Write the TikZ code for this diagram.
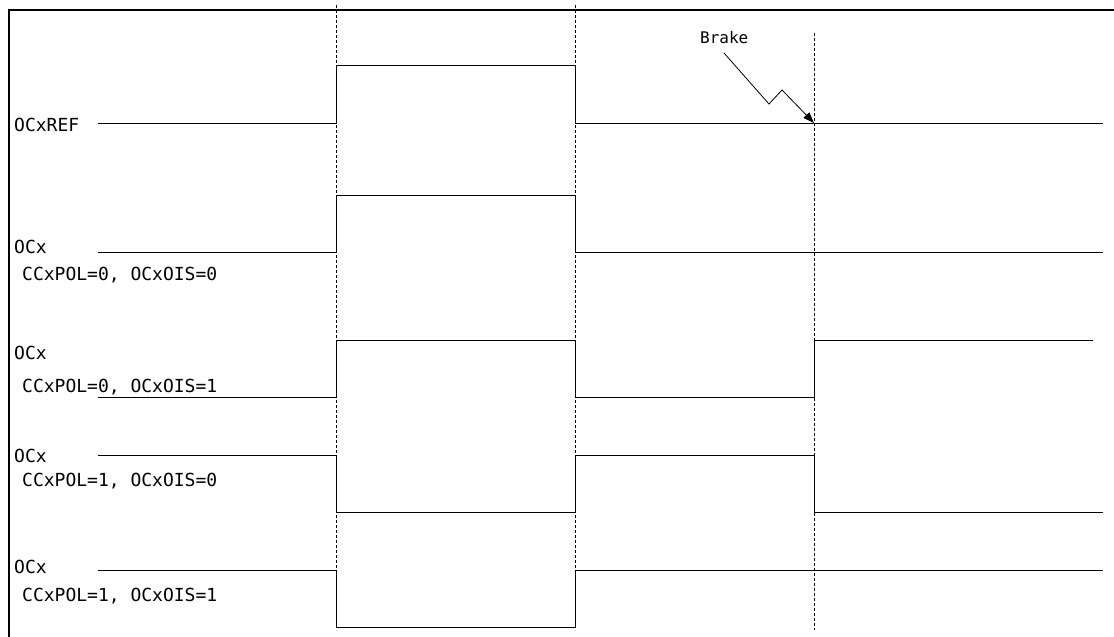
\documentclass[tikz,border=0pt]{standalone}
\usepackage{fontspec}
\newfontfamily\monofont{DejaVu Sans Mono}
\usetikzlibrary{arrows.meta}

\tikzset{
  sig/.style={line width=1pt},
  edge/.style={line width=0.8pt, dash pattern=on 3pt off 2pt},
  lbl/.style={anchor=base west, inner sep=0pt, font=\monofont\fontsize{18}{18}\selectfont},
}

\begin{document}
\begin{tikzpicture}[x=1pt,y=-1pt]

\useasboundingbox (0,0) rectangle (1114,637);

%%% 枠
\draw[line width=2pt] (9,637) --(9,10) --(1114,10);

%% 破線
\draw[edge] (336,5) --(336,630);
\draw[edge] (575,5) --(575,630);
\draw[edge] (814,33) --(814,630);

%% 名前
\node[lbl] (ref) at (14,131) {OCxREF};
\node[lbl] (oca) at (14,253) {OCx};
\node[lbl] (pola) at (22,280) {CCxPOL=0, OCxOIS=0};
\node[lbl] (ocb) at (14,359) {OCx};
\node[lbl] (polb) at (22,392) {CCxPOL=0, OCxOIS=1};
\node[lbl] (occ) at (14,462) {OCx};
\node[lbl] (polc) at (22,486) {CCxPOL=1, OCxOIS=0};
\node[lbl] (ocd) at (14,573) {OCx};
\node[lbl] (pold) at (22,601) {CCxPOL=1, OCxOIS=1};

%% 波形
% OCxREF
\draw[sig] (98,123) --(336,123) --(336,65) --(575,65) --(575,123) --(1103,123);
% CCxPOL=0, OCxOIS=0
\draw[sig] (98,252) --(336,252) --(336,195) --(575,195) --(575,252) --(1103,252);
% CCxPOL=0, OCxOIS=1
\draw[sig] (98,397) --(336,397) --(336,340) --(575,340) --(575,397) --(814,397) --(814,340) --(1093,340);
% CCxPOL=1, OCxOIS=0
\draw[sig] (98,455) --(336,455) --(336,512) --(575,512) --(575,455) --(814,455) --(814,512) --(1103,512);
% CCxPOL=1, OCxOIS=1
\draw[sig] (98,570) --(336,570) --(336,627) --(575,627) --(575,570) --(1103,570);

%% ブレーキ
\node[anchor=base west, inner sep=0pt, font=\monofont\fontsize{16}{16}\selectfont] (brake) at (700,43) {Brake};
\coordinate (stop) at (814,123);
\draw[line width=0.8pt, -{Triangle[length=11pt,width=8pt]}] (724,53) --(769,104) --(782,90) --(stop);

\end{tikzpicture}
\end{document}
